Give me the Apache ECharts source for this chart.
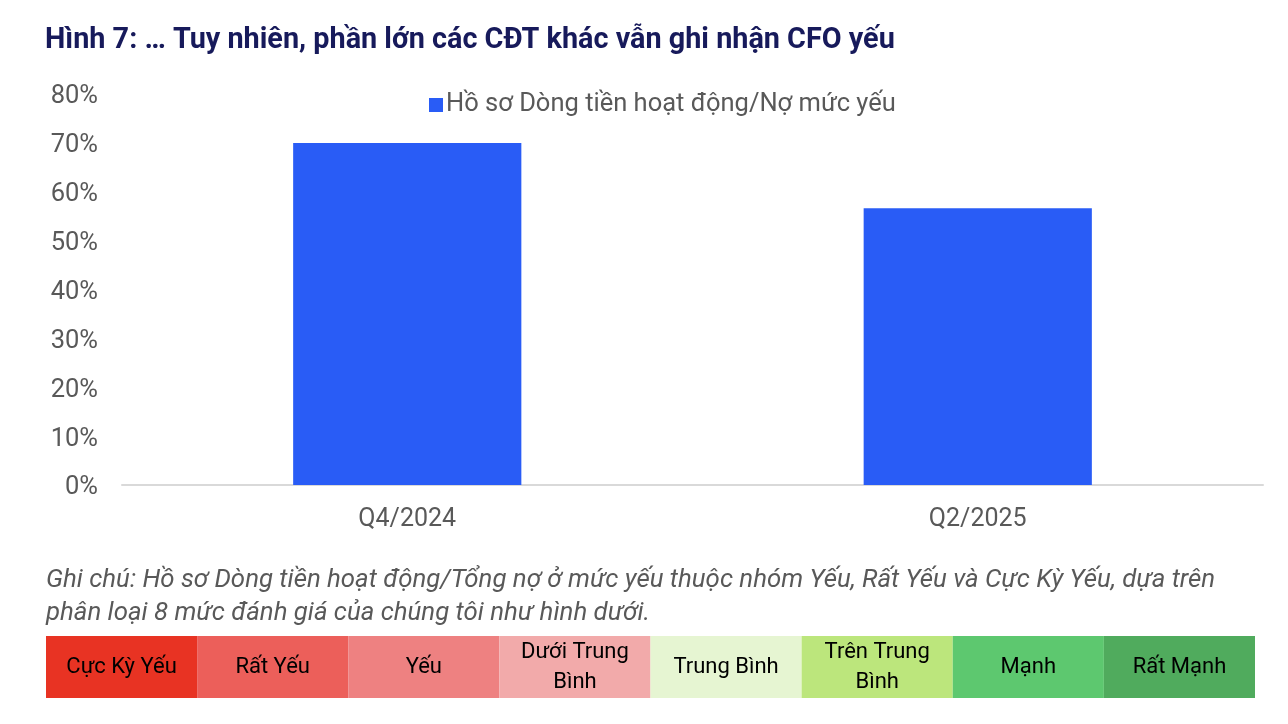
<!DOCTYPE html>
<html>
<head>
<meta charset="utf-8">
<script src="https://cdn.jsdelivr.net/npm/echarts@6/dist/echarts.min.js"></script>
<style>
html,body{margin:0;padding:0;background:#fff;}
#c{width:1288px;height:724px;}
</style>
</head>
<body>
<div id="c"></div>
<script>
const titleText = 'Hình 7: … Tuy nhiên, phần lớn các CĐT khác vẫn ghi nhận CFO yếu';
const categories = ['Q4/2024', 'Q2/2025'];
const seriesName = 'Hồ sơ Dòng tiền hoạt động/Nợ mức yếu';
const values = [70, 56.6];
const yTicks = [0, 10, 20, 30, 40, 50, 60, 70, 80];
const noteLines = [
  'Ghi chú: Hồ sơ Dòng tiền hoạt động/Tổng nợ ở mức yếu thuộc nhóm Yếu, Rất Yếu và Cực Kỳ Yếu, dựa trên',
  'phân loại 8 mức đánh giá của chúng tôi như hình dưới.'
];
const levels = ['Cực Kỳ Yếu', 'Rất Yếu', 'Yếu', 'Dưới Trung\nBình', 'Trung Bình', 'Trên Trung\nBình', 'Mạnh', 'Rất Mạnh'];
const levelColors = ['#E83323', '#EC5F5A', '#EE8181', '#F2AAAA', '#E6F5D2', '#BCE67C', '#5DC86F', '#50AB5D'];
const levelValues = [1, 1, 1, 1, 1, 1, 1, 1];

const chart = echarts.init(document.getElementById('c'));
const FONT = 'Roboto';
chart.setOption({
  animation: false,
  backgroundColor: '#fff',
  title: {
    text: titleText,
    left: 45, top: 26, padding: 0,
    textStyle: { fontFamily: FONT, fontWeight: 'bold', fontSize: 28.8, color: '#171A5B' }
  },
  legend: {
    data: [seriesName],
    left: 424, top: 87,
    itemWidth: 14, itemHeight: 14, itemGap: 6,
    icon: 'rect',
    textStyle: { fontFamily: FONT, fontSize: 25.5, color: '#595959', padding: [0,0,0,-2] }
  },
  graphic: noteLines.map((t, i) => ({
    type: 'text', left: 46, top: 568 + i * 33,
    style: { text: t, font: 'italic 25.8px Roboto', fill: '#595959' }
  })),
  grid: [
    { left: 122, right: 25, top: 94, bottom: 239 },
    { left: 46, right: 33, top: 636, height: 62 }
  ],
  xAxis: [
    {
      type: 'category', data: categories, gridIndex: 0,
      axisLine: { lineStyle: { color: '#D9D9D9', width: 2 } },
      axisTick: { show: false },
      axisLabel: { fontFamily: FONT, fontSize: 25, color: '#595959', margin: 22 }
    },
    {
      type: 'category', data: levels, gridIndex: 1, show: false
    }
  ],
  yAxis: [
    {
      type: 'value', gridIndex: 0, min: yTicks[0], max: yTicks[yTicks.length - 1], interval: 10,
      splitLine: { show: false },
      axisLine: { show: false }, axisTick: { show: false },
      axisLabel: {
        margin: 24,
        formatter: v => '{a|' + v + '%}',
        rich: { a: { fontFamily: FONT, fontSize: 25.5, color: '#595959', padding: [6, 0, 0, 0] } }
      }
    },
    { type: 'value', gridIndex: 1, min: 0, max: 1, show: false }
  ],
  series: [
    {
      name: seriesName, type: 'bar', xAxisIndex: 0, yAxisIndex: 0,
      data: values, barWidth: '40%',
      itemStyle: { color: '#295CF6' }
    },
    {
      name: 'levels', type: 'bar', xAxisIndex: 1, yAxisIndex: 1,
      data: levelValues.map((v, i) => ({ value: v, itemStyle: { color: levelColors[i] } })),
      barWidth: '100%', barCategoryGap: 0,
      label: {
        show: true, position: 'inside',
        formatter: p => levels[p.dataIndex],
        fontFamily: FONT, fontSize: 22, color: '#000', lineHeight: 30
      },
      silent: true
    }
  ]
});
</script>
</body>
</html>
